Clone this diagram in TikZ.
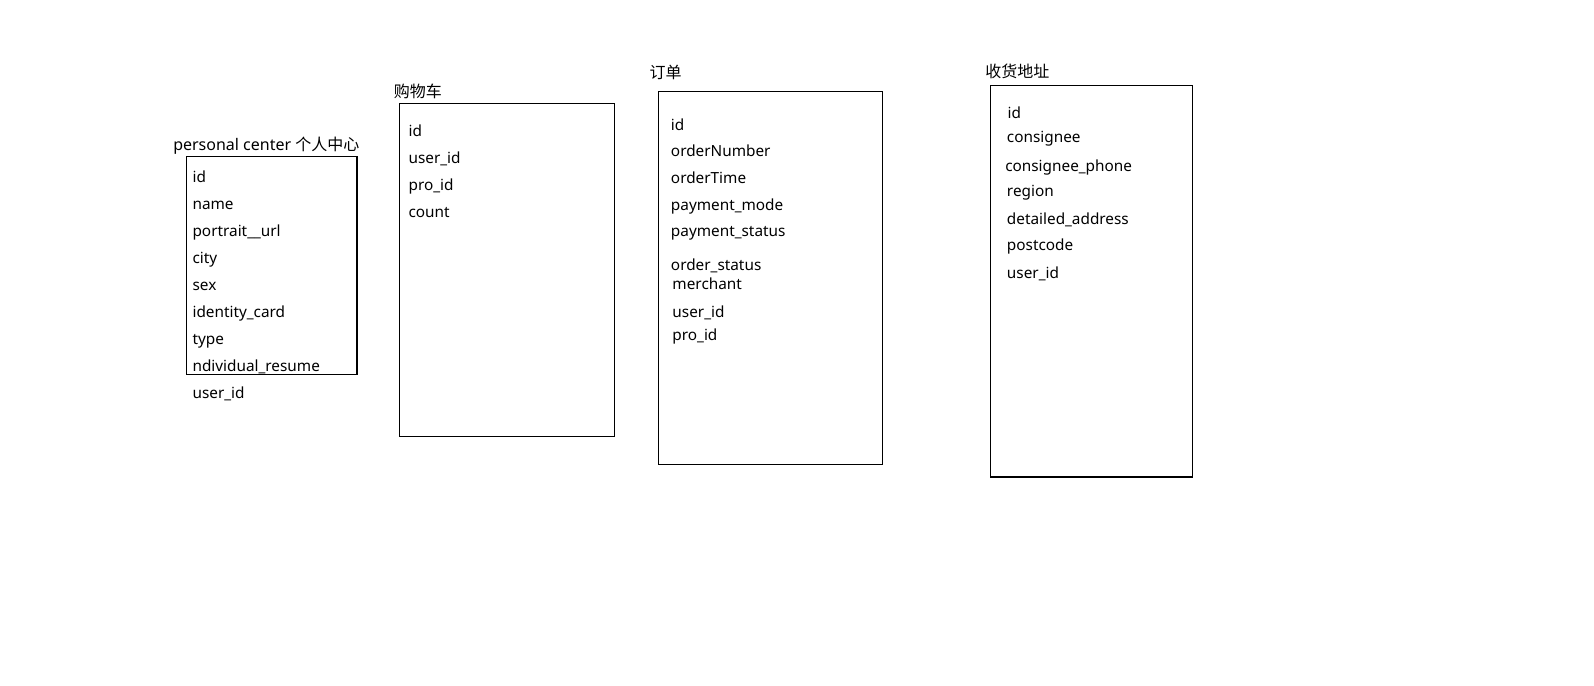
\documentclass[tikz,border=0pt]{standalone}
\usepackage{fontspec}
\setmainfont{Noto Sans}
\newfontfamily\cjk{Noto Sans CJK SC}
\usetikzlibrary{positioning}

\begin{document}
\begin{tikzpicture}[x=0.75pt, y=-0.75pt, font=\fontsize{11.5}{13}\selectfont,
    tablebox/.style={draw, line width=0.8pt},
    field/.style={anchor=base west, inner sep=0pt},
    tabletitle/.style={anchor=base west, inner sep=0pt, font=\fontsize{12}{14}\selectfont}]
    \useasboundingbox (0,0) rectangle (1594,685);

    % personal center
    \node[tabletitle] (pctitle) at (173,150) {personal center {\cjk 个人中心}};
    \draw[tablebox] (186.5,156.7) rectangle (357,374.3);
    \foreach \y/\t [count=\i] in {182.7/id, 209.7/name, 236.7/portrait\_\_url, 263.7/city,
        290.7/sex, 317.7/identity\_card, 344.7/type, 371.7/ndividual\_resume, 398.7/user\_id}
        \node[field] (pc\i) at (192.3,\y) {\t};

    % cart
    \node[tabletitle] (carttitle) at (393.5,97) {\cjk 购物车};
    \draw[tablebox] (399.5,103.7) rectangle (614.3,436.3);
    \foreach \y/\t [count=\i] in {136/id, 163.3/user\_id, 190.7/pro\_id, 217.3/count}
        \node[field] (cart\i) at (408.3,\y) {\t};

    % order
    \node[tabletitle] (ordertitle) at (649.3,79) {\cjk 订单};
    \draw[tablebox] (658.3,91.7) rectangle (882.7,464.8);
    \foreach \y/\t [count=\i] in {130/id, 156.7/orderNumber, 183.3/orderTime,
        210/payment\_mode, 236.8/payment\_status, 270.4/order\_status}
        \node[field] (order\i) at (670.7,\y) {\t};
    \foreach \y/\t [count=\i from 7] in {289.7/merchant, 317.2/user\_id, 340.6/pro\_id}
        \node[field] (order\i) at (672.2,\y) {\t};

    % address
    \node[tabletitle] (addrtitle) at (985,77.5) {\cjk 收货地址};
    \draw[tablebox] (990.7,85.3) rectangle (1192.3,477);
    \node[field] (addr1) at (1007.3,118.3) {id};
    \node[field] (addr2) at (1006.7,142.7) {consignee};
    \node[field] (addr3) at (1005,171.7) {consignee\_phone};
    \foreach \y/\t [count=\i from 4] in {196.7/region, 224.2/detailed\_address,
        250.7/postcode, 278.2/user\_id}
        \node[field] (addr\i) at (1006.7,\y) {\t};
\end{tikzpicture}
\end{document}
